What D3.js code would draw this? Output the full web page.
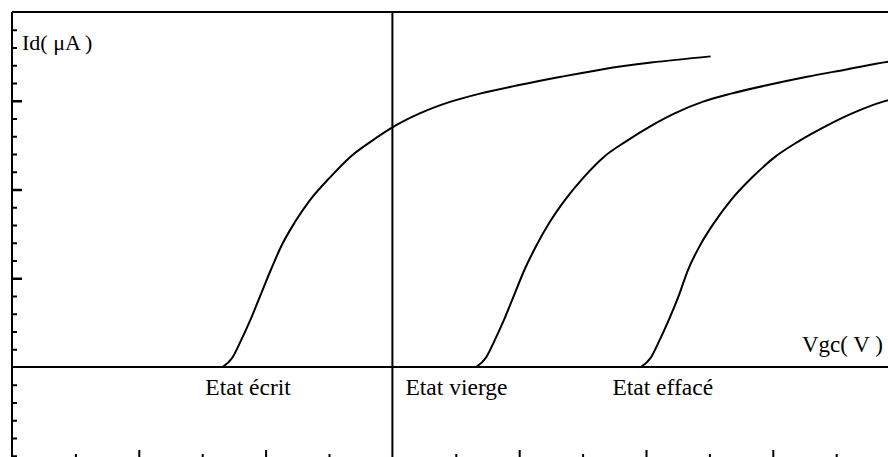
<!DOCTYPE html>
<html>
<head>
<meta charset="utf-8">
<script src="https://cdn.jsdelivr.net/npm/d3@7"></script>
<style>
  html, body { margin: 0; padding: 0; background: #fff; }
  svg { display: block; }
  text { font-family: "Liberation Serif", "Times New Roman", serif; fill: #000; }
</style>
</head>
<body>
<svg id="chart" width="888" height="457"></svg>
<script>
// Id(Vgc) transfer characteristics of the memory cell in its three states
const stateNames = ["Etat écrit", "Etat vierge", "Etat effacé"];

// Vgc (V), Id (µA)
const ecritVgc  = [-1.34, -1.26, -1.20, -1.12, -1.04, -0.96, -0.87, -0.77, -0.65, -0.49, -0.33, -0.17, 0.00, 0.22, 0.46, 0.69, 1.01, 1.33, 1.64, 2.04, 2.51];
const ecritId   = [0.00, 0.11, 0.28, 0.53, 0.81, 1.09, 1.38, 1.63, 1.88, 2.14, 2.37, 2.54, 2.70, 2.86, 2.99, 3.08, 3.18, 3.27, 3.35, 3.43, 3.50];

const viergeVgc = [0.66, 0.74, 0.80, 0.88, 0.96, 1.04, 1.14, 1.24, 1.36, 1.51, 1.67, 1.84, 2.02, 2.23, 2.45, 2.67, 2.97, 3.27, 3.57, 3.91, 4.01];
const viergeId  = [0.00, 0.11, 0.28, 0.53, 0.81, 1.09, 1.38, 1.63, 1.88, 2.14, 2.37, 2.54, 2.70, 2.86, 2.99, 3.08, 3.18, 3.27, 3.35, 3.44, 3.46];

const effaceVgc = [1.96, 2.04, 2.10, 2.18, 2.26, 2.33, 2.43, 2.54, 2.67, 2.84, 3.02, 3.20, 3.40, 3.63, 3.87, 4.01];
const effaceId  = [0.00, 0.11, 0.28, 0.53, 0.81, 1.09, 1.38, 1.63, 1.88, 2.14, 2.37, 2.54, 2.70, 2.86, 2.99, 3.04];

// axis ranges and tick values
const vgcDomain = [-3, 4];
const idDomain  = [-1, 4];
const idMinorTicks  = d3.range(-10, 41, 2).map(d => d / 10);
const idMajorTicks  = [1, 2, 3];
const vgcMinorTicks = [-2.5, -1.5, -0.5, 0.5, 1.5, 2.5, 3.5];
const vgcMajorTicks = [-2, -1, 1, 2, 3];

const axisLabelY = "Id( μA )";
const axisLabelX = "Vgc( V )";

const svg = d3.select("#chart");
const W = 888, H = 457;

const x = d3.scaleLinear().domain(vgcDomain).range([12, 12 + 7 * 126.8]);
const y = d3.scaleLinear().domain(idDomain).range([367 + 88.75, 12]);

svg.append("defs").append("clipPath").attr("id", "plot")
  .append("rect").attr("x", 12).attr("y", 12).attr("width", W - 12).attr("height", H - 12);

// left axis: minor ticks every 0.2 µA, longer ones on whole µA
const leftAxis = d3.axisRight(y)
  .tickValues(idMinorTicks.filter(v => !idMajorTicks.includes(v) && v !== 0 && v !== 4))
  .tickSize(5).tickFormat("");
svg.append("g").attr("transform", `translate(${x(-3)},0)`).call(leftAxis)
  .call(g => g.select(".domain").remove())
  .selectAll("line").attr("stroke", "#000").attr("stroke-width", 2);
svg.append("g").attr("transform", `translate(${x(-3)},0)`)
  .call(d3.axisRight(y).tickValues(idMajorTicks).tickSize(10).tickFormat(""))
  .call(g => g.select(".domain").remove())
  .selectAll("line").attr("stroke", "#000").attr("stroke-width", 2.5);

// bottom frame ticks pointing up
const yBottom = 458;
svg.append("g").attr("transform", `translate(0,${yBottom})`)
  .call(d3.axisTop(x).tickValues(vgcMinorTicks).tickSize(4).tickFormat(""))
  .call(g => g.select(".domain").remove())
  .selectAll("line").attr("stroke", "#000").attr("stroke-width", 2);
svg.append("g").attr("transform", `translate(0,${yBottom})`)
  .call(d3.axisTop(x).tickValues(vgcMajorTicks).tickSize(8).tickFormat(""))
  .call(g => g.select(".domain").remove())
  .selectAll("line").attr("stroke", "#000").attr("stroke-width", 2);

// frame and zero axes
const frame = svg.append("g").attr("stroke", "#000").attr("stroke-width", 2).attr("fill", "none");
frame.append("line").attr("x1", x(-3)).attr("x2", W).attr("y1", y(4)).attr("y2", y(4));
frame.append("line").attr("x1", x(-3)).attr("x2", x(-3)).attr("y1", y(4)).attr("y2", H);
frame.append("line").attr("x1", x(-3)).attr("x2", W).attr("y1", y(0)).attr("y2", y(0));
frame.append("line").attr("x1", x(0)).attr("x2", x(0)).attr("y1", y(4)).attr("y2", H);

// characteristic curves
const curves = [
  { vgc: ecritVgc,  id: ecritId },
  { vgc: viergeVgc, id: viergeId },
  { vgc: effaceVgc, id: effaceId }
];
const line = d3.line().x(d => x(d[0])).y(d => y(d[1])).curve(d3.curveMonotoneX);
svg.append("g").attr("clip-path", "url(#plot)")
  .selectAll("path").data(curves).join("path")
  .attr("d", c => line(c.vgc.map((v, i) => [v, c.id[i]])))
  .attr("fill", "none").attr("stroke", "#000").attr("stroke-width", 2);

// state labels under the Vgc axis
const labelPos = [-1.475, 0.103, 1.735];
svg.append("g").selectAll("text").data(stateNames).join("text")
  .attr("x", (d, i) => x(labelPos[i])).attr("y", 395)
  .attr("font-size", 23.5).text(d => d);

// axis titles
svg.append("text").attr("x", 22).attr("y", 50).attr("font-size", 22).text(axisLabelY);
svg.append("text").attr("x", 802).attr("y", 352).attr("font-size", 23).text(axisLabelX);
</script>
</body>
</html>
